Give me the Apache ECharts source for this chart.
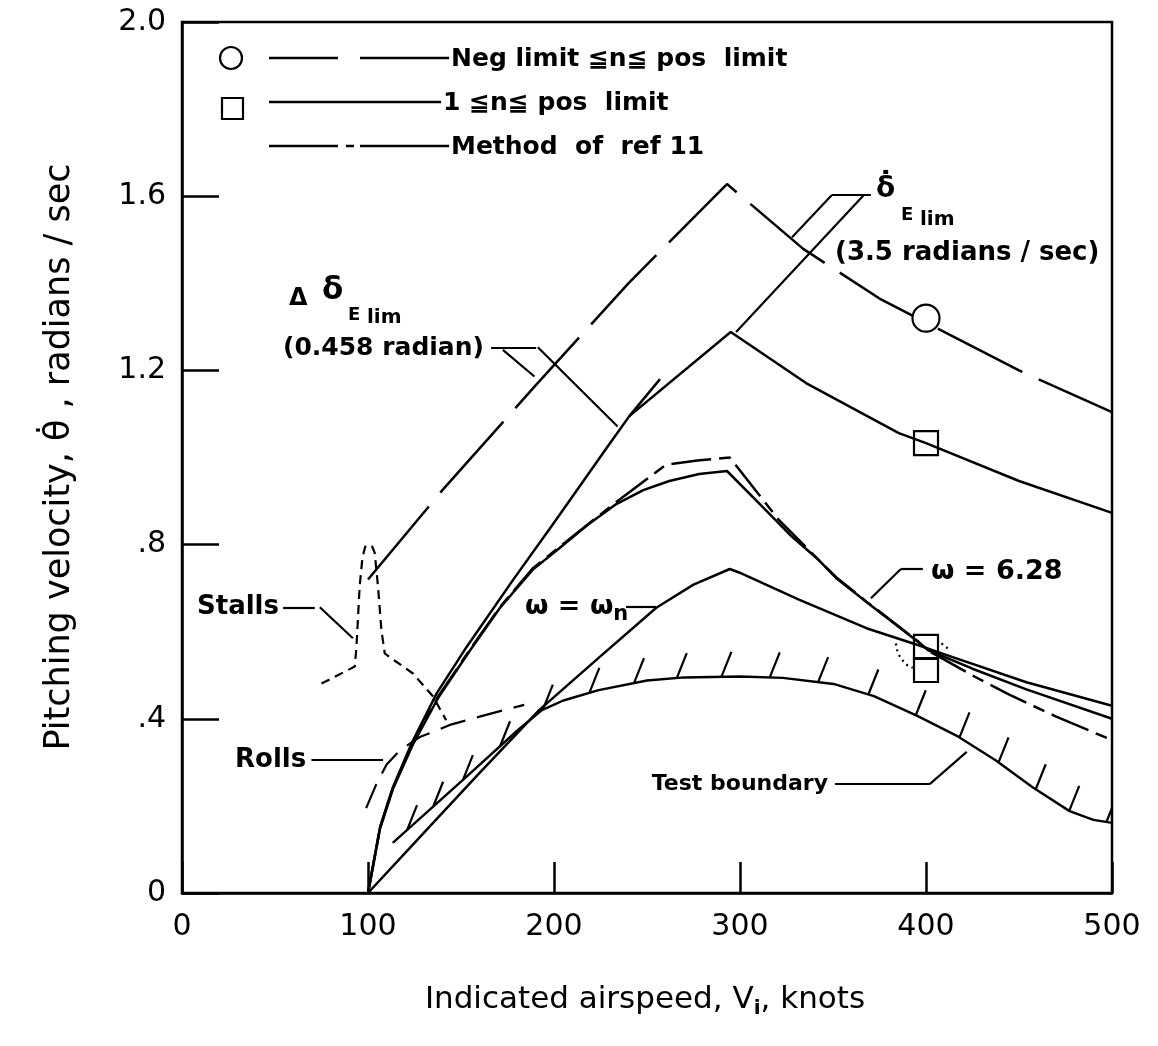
<!DOCTYPE html>
<html>
<head>
<meta charset="utf-8">
<script src="https://cdn.jsdelivr.net/npm/echarts/dist/echarts.min.js"></script>
<style>
  html, body { margin: 0; padding: 0; background: #fff; }
  #chart { width: 1158px; height: 1046px; }
</style>
</head>
<body>
<div id="chart"></div>
<script>
// Axis tick labels
const yTickLabels = ['0', '.4', '.8', '1.2', '1.6', '2.0'];

// Curves: [indicated airspeed (knots), pitching velocity (rad/sec)]
const negLimit = [[100,0.72],[140,0.925],[190,1.165],[240,1.40],[293,1.628],[334,1.479],[375,1.365],[400,1.31],[450,1.20],[500,1.104]];
const posLimit = [[100,0],[106.5,0.152],[113.4,0.243],[123.7,0.346],[137,0.459],[153,0.565],[178,0.719],[200,0.85],[228,1.02],[240.5,1.095],[295,1.288],[335.5,1.171],[385.4,1.056],[400,1.033],[450,0.946],[500,0.873]];
const posLimitExt = [[240.5,1.095],[257,1.18]];
const omega628 = [[100,0],[106.5,0.148],[113.5,0.24],[124,0.34],[138,0.45],[155,0.558],[171,0.655],[188.5,0.742],[203,0.792],[218,0.845],[233.5,0.893],[248,0.925],[262,0.946],[278,0.962],[293,0.969],[310,0.896],[328,0.818],[342.5,0.764],[352,0.722],[368,0.668],[396,0.576],[401,0.558],[425,0.515],[453.6,0.468],[500,0.40]];
const ref11 = [[100,0],[106.5,0.15],[113.5,0.243],[124,0.343],[138,0.453],[155,0.56],[171,0.657],[188.5,0.745],[203,0.795],[233.5,0.898],[260,0.983],[277,0.993],[294.5,1.0],[321,0.856],[342.5,0.764],[352,0.724],[368,0.669],[396,0.577],[401,0.557],[426.5,0.496],[444.5,0.456],[470,0.405],[500,0.351]];
const omegaN = [[100,0],[130,0.138],[160,0.276],[192,0.42],[224,0.54],[255,0.655],[275,0.708],[294.5,0.744],[299.5,0.736],[332,0.673],[368,0.608],[396,0.569],[410,0.548],[454,0.484],[500,0.43]];
const testBoundary = [[113.3,0.115],[153,0.267],[180,0.372],[193.5,0.42],[205,0.442],[224,0.466],[250,0.488],[270,0.495],[300,0.497],[323,0.494],[350.3,0.48],[372,0.452],[395.6,0.406],[417.4,0.359],[437.4,0.305],[457.3,0.243],[477.2,0.188],[490,0.168],[500,0.161]];
const hatchKnots = [121,135,151,171,194,219,243,266,290,316,342,369,394.5,418,439,459,477,497];
const stalls = [[75,0.481],[92.9,0.52],[93.8,0.566],[95.5,0.703],[97,0.77],[98.5,0.795],[100.3,0.80],[102.3,0.795],[103.6,0.781],[105.4,0.703],[107.2,0.604],[109,0.55],[115.2,0.531],[124.2,0.504],[135,0.451],[142,0.397]];
const rolls = [[99,0.195],[104.5,0.25],[110,0.295],[117,0.327],[127.8,0.358],[135,0.37],[144,0.386],[160,0.405],[166,0.412],[184,0.432]];

// Test points at 400 knots
const circlePoints = [[400,1.32]];
const squarePoints = [[400,1.033],[400,0.565],[400,0.512]];
const dottedArcLeft = [[383.8,0.573],[384.7,0.553],[386.6,0.538],[390.2,0.522],[392.9,0.517]];
const dottedArcRight = [[408.3,0.573],[412.8,0.558]];

// Leader lines for the annotations
const leaders = [
  [[54.4,0.656],[71.4,0.656]], [[74.1,0.656],[91.9,0.585]],            // Stalls
  [[69.6,0.305],[108.1,0.305]],                                        // Rolls
  [[238.7,0.657],[254.8,0.657]],                                       // omega = omega_n
  [[398.3,0.744],[386.5,0.744]], [[386.5,0.744],[370.4,0.677]],        // omega = 6.28
  [[351,0.25],[402,0.25]], [[402,0.25],[421.9,0.324]],                 // Test boundary
  [[166.2,1.251],[190.4,1.251]], [[172.5,1.247],[189.5,1.186]], [[191.3,1.253],[234.2,1.071]], // delta deflection limit
  [[349.4,1.603],[370.4,1.603]], [[349.4,1.603],[328,1.506]], [[366.6,1.603],[297.9,1.288]]    // deflection-rate limit
];

function interp(arr, x) {
  for (let i = 0; i < arr.length - 1; i++) {
    if (x >= arr[i][0] && x <= arr[i+1][0]) {
      const t = (x - arr[i][0]) / (arr[i+1][0] - arr[i][0]);
      return arr[i][1] + t * (arr[i+1][1] - arr[i][1]);
    }
  }
  return arr[arr.length - 1][1];
}
const hatchBase = hatchKnots.map(k => [k, interp(testBoundary, k)]);

const FONT = '"DejaVu Sans", "Liberation Sans", sans-serif';
const ctx = document.createElement('canvas').getContext('2d');
function measure(font, t) { ctx.font = font; return ctx.measureText(t).width; }
function textEl(t, x, y, font, align, extra) {
  align = align || 'left';
  return Object.assign({
    type: 'text', x: x, y: y, silent: true, z: 100,
    style: { text: t, font: font, fill: '#000', align: align, textAlign: align,
             verticalAlign: 'middle', textVerticalAlign: 'middle' }
  }, extra || {});
}
function run(parts, x, y, align) {
  const widths = parts.map(p => measure(p.font, p.t));
  const total = widths.reduce((a, b) => a + b, 0);
  let cx = align === 'center' ? x - total / 2 : (align === 'right' ? x - total : x);
  return parts.map((p, i) => {
    const el = textEl(p.t, cx, y + (p.dy || 0), p.font, 'left');
    cx += widths[i];
    return el;
  });
}

const B = (s) => 'bold ' + s + 'px ' + FONT;
const N = (s) => s + 'px ' + FONT;

const lineBase = { type: 'line', showSymbol: false, symbol: 'none', silent: true, animation: false, z: 3 };
function curve(data, ls) {
  return Object.assign({}, lineBase, { data: data, lineStyle: Object.assign({ color: '#000', width: 2.5 }, ls || {}) });
}

const graphics = [];
// Legend
graphics.push({ type: 'circle', shape: { cx: 231, cy: 58, r: 11 }, style: { fill: '#fff', stroke: '#000', lineWidth: 2.2 }, z: 100 });
graphics.push({ type: 'line', shape: { x1: 269, y1: 58, x2: 338, y2: 58 }, style: { stroke: '#000', lineWidth: 2.5 }, z: 100 });
graphics.push({ type: 'line', shape: { x1: 360, y1: 58, x2: 449, y2: 58 }, style: { stroke: '#000', lineWidth: 2.5 }, z: 100 });
graphics.push(textEl('Neg limit \u2266n\u2266 pos  limit', 451, 59, B(25)));
graphics.push({ type: 'rect', shape: { x: 222, y: 98, width: 21, height: 21 }, style: { fill: '#fff', stroke: '#000', lineWidth: 2.2 }, z: 100 });
graphics.push({ type: 'line', shape: { x1: 269, y1: 102, x2: 441, y2: 102 }, style: { stroke: '#000', lineWidth: 2.5 }, z: 100 });
graphics.push(textEl('1 \u2266n\u2266 pos  limit', 443, 103, B(25)));
graphics.push({ type: 'line', shape: { x1: 269, y1: 146, x2: 338, y2: 146 }, style: { stroke: '#000', lineWidth: 2.5 }, z: 100 });
graphics.push({ type: 'line', shape: { x1: 346, y1: 146, x2: 354, y2: 146 }, style: { stroke: '#000', lineWidth: 2.5 }, z: 100 });
graphics.push({ type: 'line', shape: { x1: 360, y1: 146, x2: 449, y2: 146 }, style: { stroke: '#000', lineWidth: 2.5 }, z: 100 });
graphics.push(textEl('Method  of  ref 11', 451, 147, B(25)));

// Annotations
graphics.push(textEl('Stalls', 197, 607, B(26)));
graphics.push(textEl('Rolls', 235, 760, B(26)));
graphics.push(textEl('Test boundary', 828, 784, B(22), 'right'));
graphics.push(textEl('(0.458 radian)', 283, 348, B(25)));
graphics.push(textEl('(3.5 radians / sec)', 835, 253, B(26)));
graphics.push(textEl('\u0394', 289, 299, B(24)));
graphics.push(textEl('\u03b4', 322, 291, B(31)));
graphics.push(textEl('E', 348, 315, B(18)));
graphics.push(textEl('lim', 367, 318, B(20)));
graphics.push(textEl('\u03b4\u0307', 876, 190, B(28)));
graphics.push(textEl('E', 901, 215, B(18)));
graphics.push(textEl('lim', 920, 220, B(20)));
run([{ t: '\u03c9 = \u03c9', font: B(27) }, { t: 'n', font: B(21), dy: 8 }], 525, 607, 'left').forEach(e => graphics.push(e));
graphics.push(textEl('\u03c9 = 6.28', 931, 572, B(27)));

// Axis titles
run([{ t: 'Indicated airspeed, V', font: N(31) }, { t: 'i', font: B(20), dy: 9 }, { t: ', knots', font: N(31) }], 645, 1000, 'center').forEach(e => graphics.push(e));
graphics.push({
  type: 'text', x: 60, y: 457, rotation: Math.PI / 2, silent: true, z: 100,
  style: { text: 'Pitching velocity, \u03b8\u0307 , radians / sec', font: N(35), fill: '#000',
           align: 'center', textAlign: 'center', verticalAlign: 'middle', textVerticalAlign: 'middle' }
});

const option = {
  animation: false,
  backgroundColor: '#fff',
  grid: { left: 182, right: 46, top: 22, bottom: 153, show: true, borderColor: '#000', borderWidth: 2.5, backgroundColor: 'transparent' },
  xAxis: {
    type: 'value', min: 0, max: 500, interval: 100,
    axisLine: { lineStyle: { color: '#000', width: 2.5 } },
    axisTick: { inside: true, length: 31, lineStyle: { color: '#000', width: 2.5 } },
    axisLabel: { color: '#000', fontSize: 30, fontFamily: FONT, margin: 19, showMinLabel: true, showMaxLabel: true },
    splitLine: { show: false }
  },
  yAxis: {
    type: 'value', min: 0, max: 2, interval: 0.4,
    axisLine: { lineStyle: { color: '#000', width: 2.5 } },
    axisTick: { inside: true, length: 37, lineStyle: { color: '#000', width: 2.5 } },
    axisLabel: { color: '#000', fontSize: 30, fontFamily: FONT, margin: 16,
                 formatter: v => yTickLabels[Math.round(v / 0.4)] },
    splitLine: { show: false }
  },
  graphic: graphics,
  series: [
    curve(negLimit, { type: [95, 18] }),
    curve(posLimit),
    curve(posLimitExt),
    curve(ref11, { type: [40, 8, 12, 8] }),
    curve(omega628),
    curve(omegaN),
    curve(testBoundary, { width: 2.4 }),
    curve(stalls, { type: [9, 6], width: 2.2 }),
    curve(rolls, { type: [26, 12], width: 2.2 }),
    curve(dottedArcLeft, { type: [2, 4], width: 2.2 }),
    curve(dottedArcRight, { type: [2, 4], width: 2.2 }),
    {
      type: 'custom', coordinateSystem: 'cartesian2d', silent: true, animation: false, clip: true, z: 3,
      data: hatchBase,
      renderItem: function (params, api) {
        const p = api.coord([api.value(0), api.value(1)]);
        return { type: 'line', shape: { x1: p[0], y1: p[1], x2: p[0] + 10, y2: p[1] - 25 },
                 style: { stroke: '#000', lineWidth: 2.2 } };
      }
    },
    {
      type: 'lines', coordinateSystem: 'cartesian2d', silent: true, animation: false, z: 3,
      data: leaders.map(c => ({ coords: c })),
      lineStyle: { color: '#000', width: 2.2, curveness: 0, opacity: 1 }
    },
    {
      type: 'scatter', silent: true, animation: false, z: 5,
      data: circlePoints, symbol: 'circle', symbolSize: 27,
      itemStyle: { color: '#fff', borderColor: '#000', borderWidth: 2.2, opacity: 1 }
    },
    {
      type: 'scatter', silent: true, animation: false, z: 5,
      data: squarePoints, symbol: 'rect', symbolSize: 24,
      itemStyle: { color: 'rgba(255,255,255,0)', borderColor: '#000', borderWidth: 2.2, opacity: 1 }
    }
  ]
};

const chart = echarts.init(document.getElementById('chart'), null, { renderer: 'canvas' });
chart.setOption(option);
</script>
</body>
</html>
